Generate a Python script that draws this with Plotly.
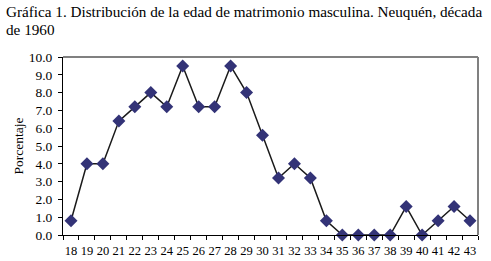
import plotly.graph_objects as go

edades = [str(a) for a in range(18, 44)]
porcentaje = [0.8, 4.0, 4.0, 6.4, 7.2, 8.0, 7.2, 9.5, 7.2, 7.2, 9.5, 8.0, 5.6,
              3.2, 4.0, 3.2, 0.8, 0.0, 0.0, 0.0, 0.0, 1.6, 0.0, 0.8, 1.6, 0.8]
y_ticks = [i * 1.0 for i in range(0, 11)]
titulo_1 = "Gráfica 1. Distribución de la edad de matrimonio masculina. Neuquén, década"
titulo_2 = "de 1960"
eje_y = "Porcentaje"

SERIF = "Liberation Serif"
PLOT_H = 178  # plot area height in px (261 - 57 - 26)
PLOT_W = 415


def ypx(px_from_top):
    return 1 + (57 - px_from_top) / PLOT_H


fig = go.Figure()
fig.add_trace(go.Scatter(
    x=edades, y=porcentaje, mode="lines+markers",
    line=dict(color="#1a1a1a", width=1.5),
    marker=dict(symbol="diamond", size=10, color="#333377",
                line=dict(color="#333377", width=0)),
    cliponaxis=False, showlegend=False,
))

fig.update_layout(
    width=491, height=261,
    margin=dict(l=63, r=13, t=57, b=26, autoexpand=False),
    paper_bgcolor="white", plot_bgcolor="white",
    font=dict(family=SERIF, color="black", size=13),
    xaxis=dict(type="category", range=[-0.5, 25.5], tickson="boundaries",
               tickmode="array", tickvals=edades, ticktext=edades, tickangle=0,
               ticks="outside", ticklen=4, tickcolor="black", tickwidth=1,
               ticklabelstandoff=4, automargin=False,
               showline=True, linecolor="black", linewidth=1,
               showgrid=False, zeroline=False,
               tickfont=dict(family=SERIF, size=12.5)),
    yaxis=dict(range=[0, 10], tickvals=y_ticks,
               ticktext=[f"{v:.1f}" for v in y_ticks],
               ticks="outside", ticklen=4, tickcolor="black", tickwidth=1,
               ticklabelstandoff=3, automargin=False,
               showline=True, linecolor="black", linewidth=1,
               showgrid=False, zeroline=False,
               tickfont=dict(family=SERIF, size=13.5),
               title=dict(text=eje_y, font=dict(family=SERIF, size=13.5), standoff=1)),
    shapes=[
        dict(type="line", xref="paper", yref="paper", x0=0, x1=1, y0=1, y1=1,
             line=dict(color="#808080", width=2)),
        dict(type="line", xref="paper", yref="paper", x0=1, x1=1, y0=0, y1=1,
             line=dict(color="#808080", width=2)),
    ],
    annotations=[
        dict(text=titulo_1, xref="paper", yref="paper", x=-58/PLOT_W, y=ypx(11),
             xanchor="left", yanchor="middle", showarrow=False, borderpad=0,
             font=dict(family=SERIF, size=15.2)),
        dict(text=titulo_2, xref="paper", yref="paper", x=-58/PLOT_W, y=ypx(29),
             xanchor="left", yanchor="middle", showarrow=False, borderpad=0,
             font=dict(family=SERIF, size=15.2)),
    ],
)

fig.write_html("out.html")
